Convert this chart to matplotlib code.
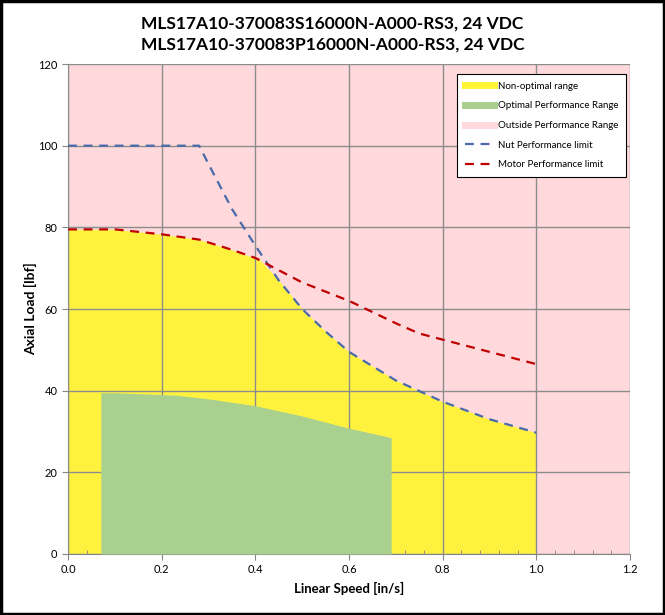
import numpy as np
import matplotlib
matplotlib.use("Agg")
import matplotlib.pyplot as plt
from matplotlib.lines import Line2D
from matplotlib.patches import Rectangle

# Nut performance limit (blue dashed)
nut_speed = [0.0, 0.28, 0.30, 0.35, 0.40, 0.45, 0.50, 0.55, 0.60, 0.70, 0.80, 0.90, 1.00]
nut_load = [100, 100, 95.5, 84.5, 75.5, 67, 60, 54.5, 49.5, 42.5, 37.3, 33, 29.7]

# Motor performance limit (red dashed)
motor_speed = [0.0, 0.10, 0.20, 0.28, 0.35, 0.40, 0.50, 0.60, 0.70, 0.75, 0.80, 0.90, 1.00]
motor_load = [79.5, 79.5, 78.3, 77, 74.5, 72.5, 66.5, 62, 56.5, 54, 52.5, 49.5, 46.5]

# Non-optimal range (yellow area upper edge)
range_speed = [0.0, 0.10, 0.20, 0.28, 0.35, 0.41, 0.45, 0.50, 0.55, 0.60, 0.70, 0.80, 0.90, 1.00]
range_load = [79.5, 79.5, 78.3, 77, 74.5, 72, 67, 60, 54.5, 49.5, 42.5, 37.3, 33, 29.7]

# Optimal performance range (green area upper edge)
opt_speed = [0.07, 0.10, 0.23, 0.30, 0.40, 0.50, 0.60, 0.69]
opt_load = [39.5, 39.5, 38.9, 38.0, 36.3, 33.8, 30.8, 28.5]

titles = ["MLS17A10-370083S16000N-A000-RS3, 24 VDC",
          "MLS17A10-370083P16000N-A000-RS3, 24 VDC"]

plt.rcParams["font.family"] = ["Lato", "DejaVu Sans"]

fig = plt.figure(figsize=(6.65, 6.15), dpi=100)
ax = fig.add_axes([0.1023, 0.0992, 0.8451, 0.7967])

# Outside performance range fills the whole plot
ax.axvspan(0, 1.2, color="#FFD9DC", zorder=0)
ax.grid(True, color="#8C8C8C", linewidth=1, zorder=1)
ax.fill_between(range_speed, 0, range_load, color="#FFF533", alpha=0.93, linewidth=0, zorder=2)
ax.fill_between(opt_speed, 0, opt_load, color="#A9D08E", linewidth=0, zorder=3)
ax.plot(nut_speed, nut_load, color="#4A6AAA", linestyle=(0, (4, 3)), linewidth=1.6, zorder=4)
ax.plot(motor_speed, motor_load, color="#C00000", linestyle=(0, (4, 3)), linewidth=1.6, zorder=4)

ax.set_xlim(0, 1.2)
ax.set_ylim(0, 120)
ax.set_xticks(np.arange(0, 1.21, 0.2))
ax.set_xticklabels([f"{v:.1f}" for v in np.arange(0, 1.21, 0.2)])
ax.set_yticks(np.arange(0, 121, 20))
ax.set_xticks(np.arange(0, 1.21, 0.04), minor=True)
ax.tick_params(axis="both", which="major", labelsize=8, length=4, color="#868686")
ax.tick_params(axis="x", which="minor", direction="in", length=3, color="#868686")
ax.set_axisbelow(False)
for side in ["top", "right"]:
    ax.spines[side].set_visible(False)
for side in ["left", "bottom"]:
    ax.spines[side].set_color("#868686")

ax.set_xlabel("Linear Speed [in/s]", fontsize=9.5, fontweight="bold", labelpad=5)
ax.set_ylabel("Axial Load [lbf]", fontsize=10, fontweight="bold", labelpad=1)

fig.text(0.5, 0.962, titles[0], ha="center", va="center", fontsize=12.5, fontweight="bold")
fig.text(0.5, 0.927, titles[1], ha="center", va="center", fontsize=12.5, fontweight="bold")

handles = [
    Line2D([], [], color="#FFF533", linewidth=5),
    Line2D([], [], color="#A9D08E", linewidth=5),
    Line2D([], [], color="#FFD9DC", linewidth=5),
    Line2D([], [], color="#4A6AAA", linestyle=(0, (4, 3)), linewidth=1.6),
    Line2D([], [], color="#C00000", linestyle=(0, (4, 3)), linewidth=1.6),
]
labels = ["Non-optimal range", "Optimal Performance Range", "Outside Performance Range",
          "Nut Performance limit", "Motor Performance limit"]
leg = ax.legend(handles, labels, loc="upper right", bbox_to_anchor=(0.993, 0.98),
                borderaxespad=0, fontsize=7, fancybox=False, framealpha=1, edgecolor="black",
                handlelength=3, labelspacing=1.1, borderpad=0.8, handletextpad=0.4)
leg.get_frame().set_linewidth(0.8)
leg.set_zorder(10)

fig.patches.append(Rectangle((0.002, 0.002), 0.996, 0.996, transform=fig.transFigure,
                             fill=False, edgecolor="black", linewidth=2.5))

fig.savefig("out.png", dpi=100)
